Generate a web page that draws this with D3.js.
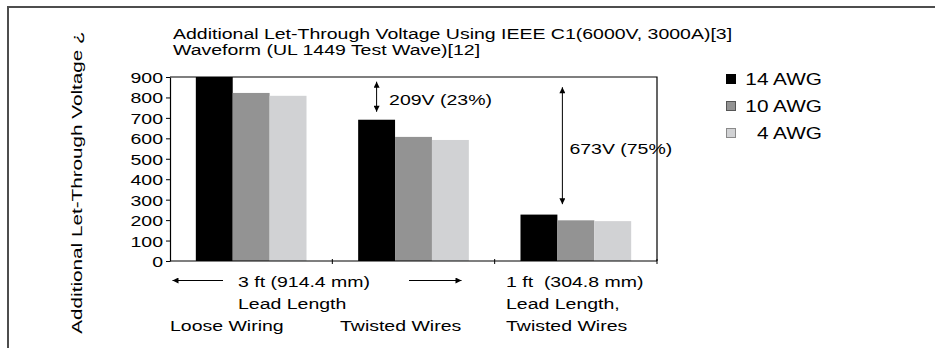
<!DOCTYPE html>
<html>
<head>
<meta charset="utf-8">
<script src="https://cdn.jsdelivr.net/npm/d3@7/dist/d3.min.js"></script>
<style>
  html, body { margin: 0; padding: 0; background: #fff; }
  svg { display: block; }
  text { font-family: "Liberation Sans", Arial, Helvetica, sans-serif; fill: #000; }
</style>
</head>
<body>
<svg id="chart" width="935" height="348"></svg>
<script>
// Lead-length categories and wire gauges
const categories = ["3 ft loose", "3 ft twisted", "1 ft twisted"];
const series = ["14 AWG", "10 AWG", "4 AWG"];
const seriesColors = ["#000000", "#939393", "#d1d2d4"];
const seriesStroke = ["#000000", "#555555", "#8a8a8a"];

// Additional let-through voltage (V) per gauge, by category
const values14 = [900, 691, 227];
const values10 = [822, 607, 199];
const values4 = [808, 592, 195];
const seriesValues = [values14, values10, values4];

const yTicks = [0, 100, 200, 300, 400, 500, 600, 700, 800, 900];

const titleLines = [
  "Additional Let-Through Voltage Using IEEE C1(6000V, 3000A)[3]",
  "Waveform (UL 1449 Test Wave)[12]"
];
const yTitle = "Additional Let-Through Voltage \u00bf";

// Difference callouts: from/to category index of the 14 AWG bar
const callouts = [
  { from: 0, to: 1, text: "209V (23%)" },
  { from: 0, to: 2, text: "673V (75%)" }
];

const SX = 1.3; // wide lettering

const svg = d3.select("#chart");
svg.append("rect").attr("width", 935).attr("height", 348).attr("fill", "#fff");

// outer frame (top and left edges)
svg.append("path")
  .attr("d", "M8,348 V7 H935")
  .attr("fill", "none")
  .attr("stroke", "#4d4d4d")
  .attr("stroke-width", 2);

function label(parent, x, y, str, size, anchor, sx) {
  return parent.append("text")
    .attr("transform", `translate(${x},${y}) scale(${sx || SX},1)`)
    .attr("font-size", size)
    .attr("text-anchor", anchor || "start")
    .text(str);
}

const plot = { left: 170, right: 657, top: 77, bottom: 261 };

const x0 = d3.scaleBand().domain(categories).range([plot.left, plot.right]);
const x1 = d3.scaleBand().domain(series).range([0, x0.bandwidth()]).paddingOuter(0.7);
const y = d3.scaleLinear().domain([0, 900]).range([plot.bottom, plot.top]);

// title
titleLines.forEach((t, i) => label(svg, 173, 39 + i * 15.5, t, 15));

// y-axis title
svg.append("text")
  .attr("transform", `translate(82,182.5) rotate(-90) scale(1.38,1)`)
  .attr("font-size", 15)
  .attr("text-anchor", "middle")
  .text(yTitle);

// bars
const groups = svg.append("g").selectAll("g")
  .data(categories)
  .join("g")
  .attr("transform", d => `translate(${x0(d)},0)`);

groups.selectAll("rect")
  .data((d, ci) => series.map((s, si) => ({ s, si, v: seriesValues[si][ci] })))
  .join("rect")
  .attr("x", d => x1(d.s))
  .attr("width", x1.bandwidth())
  .attr("y", d => y(d.v))
  .attr("height", d => y(0) - y(d.v))
  .attr("fill", d => seriesColors[d.si]);

// plot frame: top and right edges
svg.append("path")
  .attr("d", `M${plot.left},${plot.top} H${plot.right} V${plot.bottom}`)
  .attr("fill", "none").attr("stroke", "#000").attr("stroke-width", 1.2);

// y axis
const yAxis = svg.append("g")
  .attr("transform", `translate(${plot.left},0)`)
  .call(d3.axisLeft(y).tickValues(yTicks).tickSize(4).tickSizeOuter(0).tickFormat(""));
yAxis.select(".domain").attr("stroke-width", 1.2);
yAxis.selectAll(".tick").each(function (d) {
  label(d3.select(this), -7, 5.5, String(d), 15, "end");
});

// x axis with category boundary ticks
const boundaries = categories.map(c => x0(c)).concat([plot.right]);
svg.append("line")
  .attr("x1", plot.left).attr("x2", plot.right)
  .attr("y1", plot.bottom).attr("y2", plot.bottom)
  .attr("stroke", "#000").attr("stroke-width", 1.2);
svg.append("g").selectAll("line")
  .data(boundaries.slice(1))
  .join("line")
  .attr("x1", d => d).attr("x2", d => d)
  .attr("y1", plot.bottom - 2).attr("y2", plot.bottom + 3)
  .attr("stroke", "#000").attr("stroke-width", 1);

// arrow markers
const defs = svg.append("defs");
["end", "start"].forEach(k => {
  defs.append("marker")
    .attr("id", "head-" + k)
    .attr("markerUnits", "userSpaceOnUse")
    .attr("viewBox", "0 0 10 10")
    .attr("refX", 10).attr("refY", 5)
    .attr("markerWidth", 7).attr("markerHeight", 6)
    .attr("orient", k === "end" ? "auto" : "auto-start-reverse")
    .append("path").attr("d", "M0,0 L10,5 L0,10 z").attr("fill", "#000");
});

function arrow(x1p, y1p, x2p, y2p, both) {
  const l = svg.append("line")
    .attr("x1", x1p).attr("y1", y1p).attr("x2", x2p).attr("y2", y2p)
    .attr("stroke", "#000").attr("stroke-width", 1)
    .attr("marker-end", "url(#head-end)");
  if (both) l.attr("marker-start", "url(#head-start)");
  return l;
}

// callout 1: between 14 AWG bars of first two categories
{
  const c = callouts[0];
  const cx = x0(categories[c.to]) + x1(series[0]) + x1.bandwidth() / 2;
  arrow(cx, y(877), cx, y(730), true);
  label(svg, cx + 12.5, 104.5, c.text, 15);
}
// callout 2: long arrow beside the 1 ft bars
{
  const c = callouts[1];
  const cx = x0(categories[c.to]) + x1(series[0]) + x1.bandwidth() + 5;
  arrow(cx, y(278), cx, y(850), true);
  label(svg, cx + 7, 154, c.text, 15);
}

// category labels
label(svg, 238, 286.5, "3 ft (914.4 mm)", 15);
label(svg, 238, 309, "Lead Length", 15);
label(svg, 170, 331, "Loose Wiring", 15);
label(svg, 340, 331, "Twisted Wires", 15);
arrow(223, 280.5, 172.5, 280.5, false);
arrow(409, 280.5, 461.5, 280.5, false);
label(svg, 506, 286.5, "1 ft\u00a0\u00a0(304.8 mm)", 15);
label(svg, 506, 309, "Lead Length,", 15);
label(svg, 506, 331, "Twisted Wires", 15);

// legend
const legend = svg.append("g").selectAll("g")
  .data(series)
  .join("g")
  .attr("transform", (d, i) => `translate(726,${74 + i * 27})`);
legend.append("rect")
  .attr("x", 0.5).attr("y", 0.5).attr("width", 9).attr("height", 9)
  .attr("fill", (d, i) => seriesColors[i])
  .attr("stroke", (d, i) => seriesStroke[i]);
legend.each(function (d) {
  label(d3.select(this), 96, 11, d, 16, "end");
});
</script>
</body>
</html>
